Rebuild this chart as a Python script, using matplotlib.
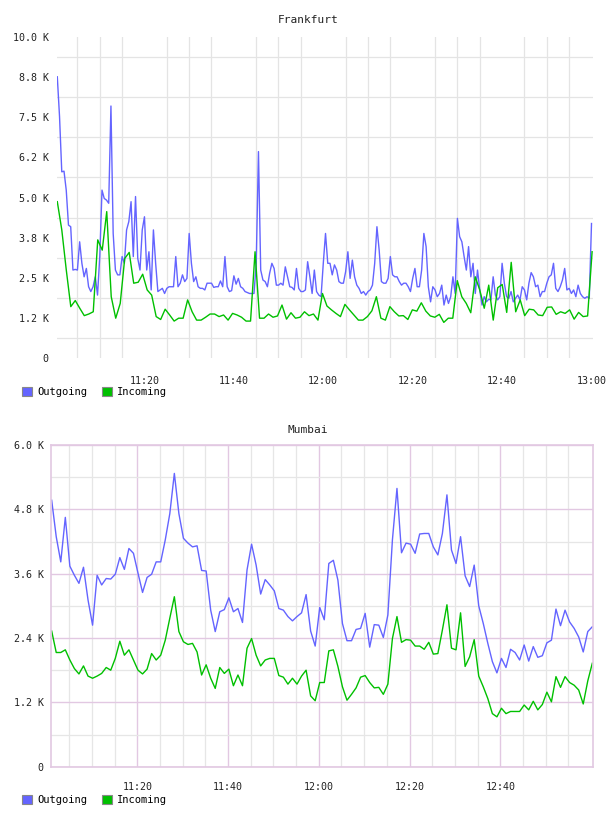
import matplotlib
matplotlib.use("Agg")
import matplotlib.pyplot as plt
import matplotlib.dates as mdates
from matplotlib.patches import Patch
from matplotlib.ticker import FixedLocator, FuncFormatter
import pandas as pd

DAY = "2024-01-01 "

# ---------------- Frankfurt data (values in K) ----------------
fra_out_start, fra_out_end = "11:00:33", "13:00:00"
fra_in_start, fra_in_end = "11:00:33", "13:00:08"
fra_outgoing = [
    8.76, 7.52, 5.80, 5.82, 5.23, 4.14, 4.09, 2.74, 2.76, 2.74,
    3.62, 2.95, 2.53, 2.79, 2.22, 2.07, 2.22, 2.53, 1.96, 3.16,
    5.23, 4.97, 4.92, 4.82, 7.85, 3.88, 2.74, 2.59, 2.59, 3.16,
    2.95, 3.99, 4.25, 4.87, 3.16, 5.03, 3.10, 2.74, 3.99, 4.40,
    2.74, 3.31, 2.12, 3.99, 2.95, 2.07, 2.12, 2.17, 2.01, 2.17,
    2.22, 2.22, 2.22, 3.16, 2.22, 2.33, 2.59, 2.38, 2.48, 3.88,
    2.95, 2.38, 2.53, 2.22, 2.17, 2.17, 2.12, 2.33, 2.33, 2.33,
    2.20, 2.22, 2.22, 2.40, 2.22, 3.16, 2.22, 2.07, 2.10, 2.56,
    2.30, 2.48, 2.22, 2.17, 2.07, 2.04, 2.01, 2.01, 2.01, 2.95,
    6.43, 2.74, 2.43, 2.38, 2.22, 2.64, 2.95, 2.79, 2.27, 2.27,
    2.33, 2.27, 2.84, 2.53, 2.22, 2.20, 2.12, 2.79, 2.17, 2.07,
    2.07, 2.12, 3.00, 2.53, 2.01, 2.74, 2.07, 1.96, 1.91, 2.95,
    3.88, 2.95, 2.95, 2.59, 2.90, 2.74, 2.38, 2.33, 2.33, 2.69,
    3.31, 2.48, 3.05, 2.53, 2.27, 2.17, 2.01, 2.07, 1.96, 2.07,
    2.12, 2.27, 2.95, 4.09, 3.36, 2.38, 2.33, 2.33, 2.48, 3.16,
    2.59, 2.53, 2.53, 2.38, 2.27, 2.33, 2.33, 2.22, 2.07, 2.48,
    2.79, 2.22, 2.22, 2.74, 3.88, 3.47, 2.22, 1.75, 2.22, 2.12,
    1.91, 2.01, 2.27, 1.65, 1.96, 1.70, 1.91, 2.53, 2.01, 4.35,
    3.78, 3.62, 3.16, 2.74, 3.47, 2.53, 2.95, 2.01, 2.74, 2.12,
    1.65, 1.91, 1.75, 1.83, 1.81, 2.53, 1.96, 1.81, 1.91, 2.95,
    2.33, 1.91, 1.86, 2.07, 1.75, 1.86, 1.96, 1.81, 2.22, 2.12,
    1.81, 2.33, 2.66, 2.53, 2.22, 2.27, 1.91, 2.07, 2.07, 2.33,
    2.53, 2.59, 2.95, 2.17, 2.07, 2.22, 2.43, 2.79, 2.12, 2.17,
    2.01, 2.12, 1.91, 2.27, 2.01, 1.91, 1.86, 1.91, 1.86, 4.19,
]
fra_incoming = [
    4.87, 3.99, 2.74, 1.60, 1.79, 1.55, 1.32, 1.37, 1.44, 3.68,
    3.36, 4.56, 1.91, 1.24, 1.70, 3.10, 3.29, 2.33, 2.36, 2.61,
    2.12, 1.96, 1.29, 1.20, 1.52, 1.34, 1.15, 1.24, 1.24, 1.81,
    1.44, 1.18, 1.18, 1.27, 1.37, 1.37, 1.29, 1.34, 1.18, 1.39,
    1.34, 1.27, 1.15, 1.15, 3.31, 1.24, 1.24, 1.37, 1.27, 1.31,
    1.65, 1.21, 1.41, 1.24, 1.27, 1.44, 1.32, 1.37, 1.18, 2.01,
    1.62, 1.50, 1.39, 1.29, 1.67, 1.50, 1.34, 1.18, 1.18, 1.29,
    1.47, 1.91, 1.24, 1.18, 1.60, 1.44, 1.31, 1.32, 1.20, 1.50,
    1.46, 1.72, 1.46, 1.31, 1.27, 1.36, 1.11, 1.24, 1.24, 2.41,
    1.91, 1.70, 1.41, 2.53, 2.12, 1.55, 2.27, 1.18, 2.19, 2.29,
    1.42, 2.98, 1.44, 1.81, 1.32, 1.52, 1.50, 1.34, 1.32, 1.58,
    1.59, 1.36, 1.44, 1.39, 1.50, 1.21, 1.42, 1.29, 1.31, 3.31,
]
fra_xlim = ("11:00:29", "13:00:20")
fra_yticks = [0, 1.25, 2.5, 3.75, 5.0, 6.25, 7.5, 8.75, 10.0]
fra_ygrid = [0.625, 1.875, 3.125, 4.375, 5.625, 6.875, 8.125, 9.375]
fra_xticklabels = ["11:20", "11:40", "12:00", "12:20", "12:40", "13:00"]

# ---------------- Mumbai data (values in K) ----------------
mum_start, mum_end = "11:01:08", "13:00:17"
mum_outgoing = [
    4.97, 4.29, 3.82, 4.65, 3.74, 3.57, 3.42, 3.72, 3.11, 2.64,
    3.57, 3.39, 3.51, 3.50, 3.59, 3.90, 3.68, 4.07, 3.98, 3.61,
    3.25, 3.53, 3.59, 3.82, 3.82, 4.23, 4.72, 5.47, 4.72, 4.26,
    4.17, 4.10, 4.12, 3.66, 3.65, 2.92, 2.52, 2.89, 2.93, 3.15,
    2.89, 2.95, 2.69, 3.67, 4.15, 3.76, 3.22, 3.49, 3.39, 3.28,
    2.95, 2.92, 2.80, 2.72, 2.80, 2.87, 3.21, 2.53, 2.25, 2.97,
    2.74, 3.79, 3.85, 3.48, 2.67, 2.35, 2.35, 2.56, 2.58, 2.86,
    2.23, 2.65, 2.64, 2.41, 2.83, 4.23, 5.19, 3.99, 4.17, 4.15,
    3.98, 4.34, 4.35, 4.35, 4.10, 3.95, 4.35, 5.07, 4.04, 3.79,
    4.29, 3.56, 3.36, 3.76, 3.00, 2.67, 2.30, 1.96, 1.75, 2.02,
    1.85, 2.19, 2.13, 1.99, 2.27, 1.97, 2.24, 2.04, 2.07, 2.31,
    2.36, 2.94, 2.63, 2.92, 2.70, 2.58, 2.42, 2.14, 2.52, 2.61,
]
mum_incoming = [
    2.53, 2.13, 2.13, 2.18, 1.99, 1.83, 1.73, 1.88, 1.69, 1.65,
    1.69, 1.74, 1.85, 1.80, 2.02, 2.34, 2.08, 2.18, 1.99, 1.80,
    1.73, 1.82, 2.11, 1.99, 2.08, 2.36, 2.77, 3.17, 2.52, 2.33,
    2.28, 2.30, 2.14, 1.71, 1.90, 1.65, 1.46, 1.85, 1.74, 1.82,
    1.51, 1.71, 1.51, 2.21, 2.39, 2.08, 1.88, 1.99, 2.02, 2.02,
    1.70, 1.67, 1.54, 1.65, 1.54, 1.69, 1.80, 1.32, 1.23, 1.57,
    1.57, 2.16, 2.18, 1.87, 1.49, 1.24, 1.35, 1.47, 1.67, 1.70,
    1.57, 1.47, 1.48, 1.35, 1.54, 2.39, 2.80, 2.32, 2.37, 2.36,
    2.25, 2.25, 2.19, 2.32, 2.10, 2.11, 2.55, 3.02, 2.21, 2.18,
    2.87, 1.87, 2.05, 2.37, 1.69, 1.49, 1.27, 0.99, 0.93, 1.09,
    0.99, 1.03, 1.03, 1.03, 1.15, 1.06, 1.22, 1.06, 1.16, 1.39,
    1.21, 1.68, 1.48, 1.68, 1.57, 1.52, 1.43, 1.17, 1.60, 1.93,
]
mum_xlim = ("11:00:55", "13:00:30")
mum_yticks = [0, 1.2, 2.4, 3.6, 4.8, 6.0]
mum_ygrid = [0.6, 1.8, 3.0, 4.2, 5.4]
mum_xticklabels = ["11:20", "11:40", "12:00", "12:20", "12:40"]

series_names = ["Outgoing", "Incoming"]
OUT_COLOR = "#6464ff"
IN_COLOR = "#00c000"
FONT = "DejaVu Sans Mono"
TXT = "#222222"


def ts(s):
    return pd.Timestamp(DAY + s)


def kfmt(v, pos=None):
    return "0" if v == 0 else "%.1f K" % v


fig = plt.figure(figsize=(6.08, 8.16), dpi=100)
W, H = 608.0, 816.0


def axes_px(l, t, r, b):
    return fig.add_axes([l / W, 1 - b / H, (r - l) / W, (b - t) / H])


# ---------- Frankfurt ----------
ax1 = axes_px(57, 37, 593, 358)
t_out = pd.date_range(ts(fra_out_start), ts(fra_out_end), periods=len(fra_outgoing))
t_in = pd.date_range(ts(fra_in_start), ts(fra_in_end), periods=len(fra_incoming))
ax1.set_xlim(ts(fra_xlim[0]), ts(fra_xlim[1]))
ax1.set_ylim(0, 10)
for s in ax1.spines.values():
    s.set_visible(False)
ax1.yaxis.set_major_locator(FixedLocator(fra_yticks))
ax1.yaxis.set_major_formatter(FuncFormatter(kfmt))
ax1.yaxis.set_minor_locator(FixedLocator(fra_ygrid))
ax1.xaxis.set_major_locator(FixedLocator([mdates.date2num(ts(l + ":00")) for l in fra_xticklabels]))
ax1.xaxis.set_major_formatter(mdates.DateFormatter("%H:%M"))
ax1.xaxis.set_minor_locator(mdates.MinuteLocator(byminute=range(0, 60, 5)))
ax1.grid(False)
ax1.grid(True, which="minor", axis="both", color="#e4e4e4", lw=0.9)
ax1.set_axisbelow(True)
ax1.tick_params(which="both", length=0)
ax1.tick_params(axis="y", pad=6, labelsize=7.2, labelcolor=TXT)
ax1.tick_params(axis="x", pad=13, labelsize=7.2, labelcolor=TXT)
for lab in ax1.get_xticklabels() + ax1.get_yticklabels():
    lab.set_family(FONT)
ax1.plot(t_out, fra_outgoing, color=OUT_COLOR, lw=1.0)
ax1.plot(t_in, fra_incoming, color=IN_COLOR, lw=1.0)
fig.text(308 / W, 1 - 20 / H, "Frankfurt", ha="center", va="center",
         family=FONT, fontsize=8, color=TXT)

# ---------- Mumbai ----------
ax2 = axes_px(50.7, 445, 593.3, 766.7)
t_m = pd.date_range(ts(mum_start), ts(mum_end), periods=len(mum_outgoing))
ax2.set_xlim(ts(mum_xlim[0]), ts(mum_xlim[1]))
ax2.set_ylim(0, 6)
for s in ax2.spines.values():
    s.set_color("#e2c8e2")
    s.set_linewidth(1.2)
ax2.yaxis.set_major_locator(FixedLocator(mum_yticks))
ax2.yaxis.set_major_formatter(FuncFormatter(kfmt))
ax2.yaxis.set_minor_locator(FixedLocator(mum_ygrid))
ax2.xaxis.set_major_locator(FixedLocator([mdates.date2num(ts(l + ":00")) for l in mum_xticklabels]))
ax2.xaxis.set_major_formatter(mdates.DateFormatter("%H:%M"))
ax2.xaxis.set_minor_locator(mdates.MinuteLocator(byminute=[5, 10, 15, 25, 30, 35, 45, 50, 55]))
ax2.grid(True, which="minor", axis="both", color="#e6e6e6", lw=0.9)
ax2.grid(True, which="major", axis="both", color="#e2c8e2", lw=1.0)
ax2.set_axisbelow(True)
ax2.tick_params(which="both", length=0)
ax2.tick_params(axis="y", pad=5, labelsize=7.2, labelcolor=TXT)
ax2.tick_params(axis="x", pad=11, labelsize=7.2, labelcolor=TXT)
for lab in ax2.get_xticklabels() + ax2.get_yticklabels():
    lab.set_family(FONT)
ax2.plot(t_m, mum_outgoing, color=OUT_COLOR, lw=1.0)
ax2.plot(t_m, mum_incoming, color=IN_COLOR, lw=1.0)
fig.text(308 / W, 1 - 430 / H, "Mumbai", ha="center", va="center",
         family=FONT, fontsize=8, color=TXT)

# ---------- legends ----------
for ypx in (392, 800):
    handles = [Patch(facecolor=OUT_COLOR, edgecolor="#888888", lw=0.8),
               Patch(facecolor=IN_COLOR, edgecolor="#888888", lw=0.8)]
    fig.legend(handles, series_names, loc="center left",
               bbox_to_anchor=(22 / W, 1 - ypx / H), ncol=2, frameon=False,
               prop={"family": FONT, "size": 7.5}, handlelength=1.0,
               handleheight=1.0, handletextpad=0.45, columnspacing=1.4,
               borderpad=0, borderaxespad=0)

fig.savefig("out.png", dpi=100, facecolor="white")
